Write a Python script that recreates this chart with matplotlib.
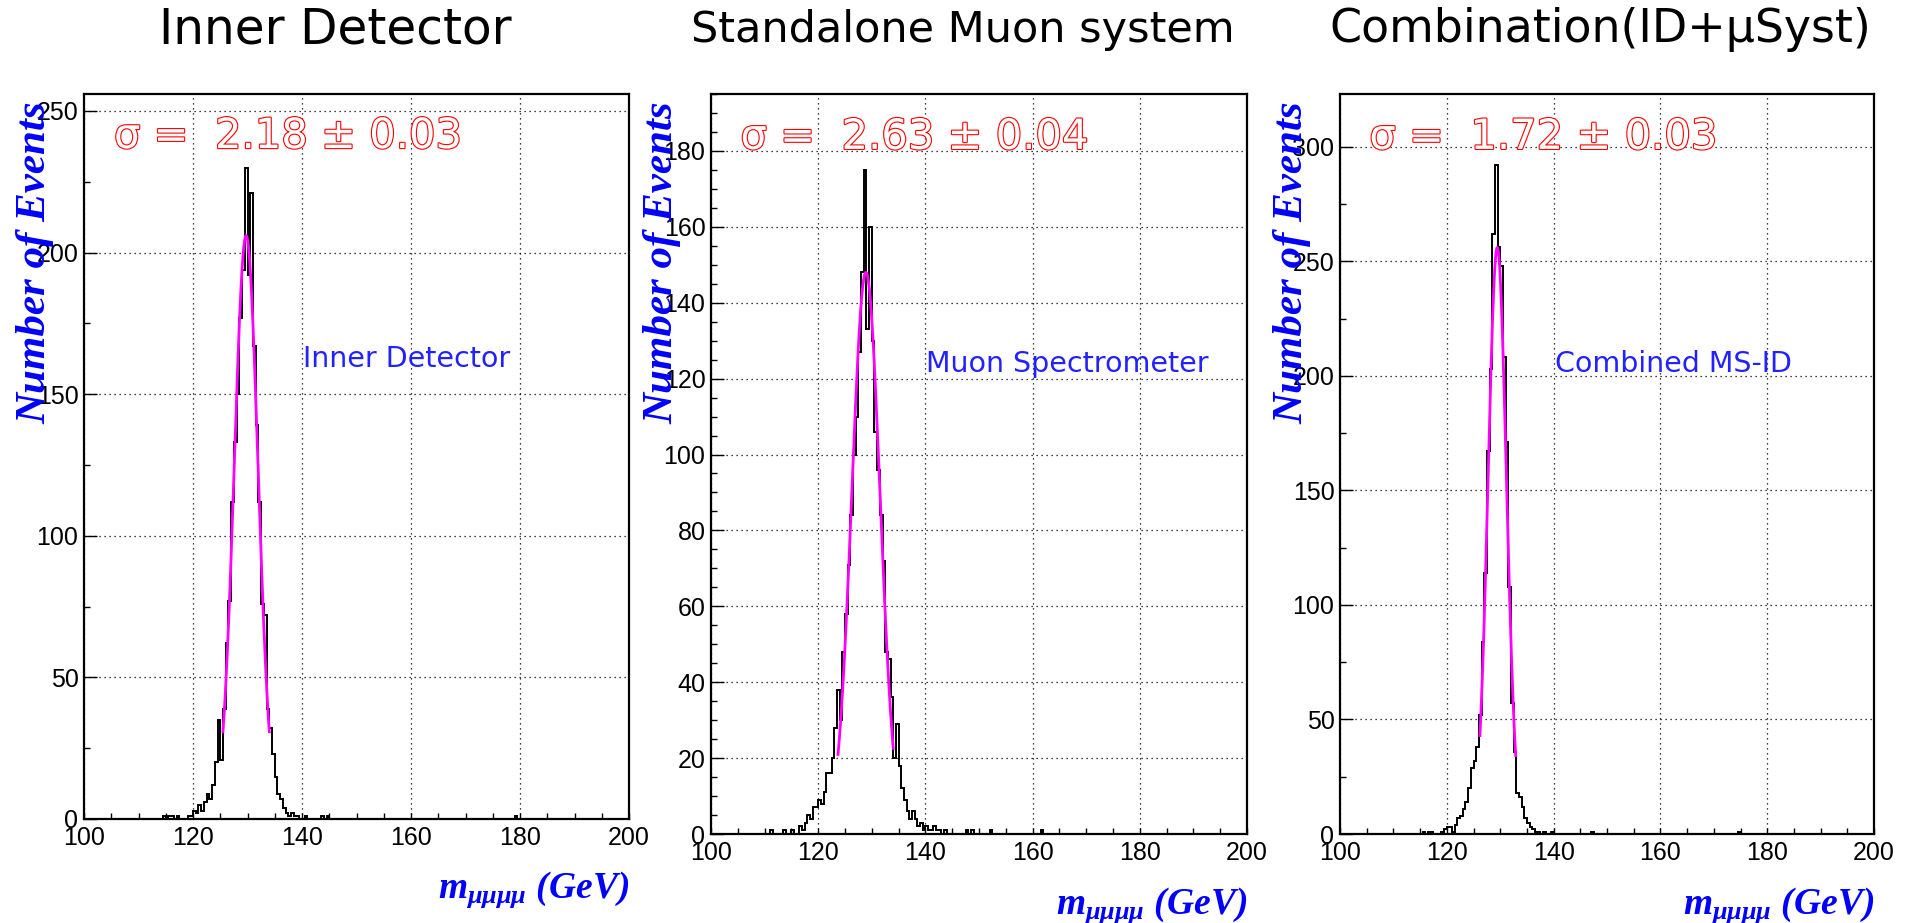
import numpy as np
import matplotlib
matplotlib.use("Agg")
import matplotlib.pyplot as plt
import matplotlib.patheffects as pe
from matplotlib.ticker import MultipleLocator

# ---------------- histogram contents ----------------
# 0.5 GeV bins between 100 and 200 GeV; each list starts at *_first
BIN_W = 0.5
X_LO, X_HI = 100.0, 200.0

# Inner Detector
id_first = 114.5
id_counts = [1, 0, 1, 1, 0, 1, 0, 0, 0, 1, 1, 3, 2, 5, 3, 6, 9, 7, 12, 20,
             35, 21, 39, 62, 77, 112, 133, 150, 177, 194, 230, 192, 221, 167, 139, 112,
             76, 72, 39, 32, 23, 15, 9, 7, 4, 2, 1, 2, 1, 1, 0, 0, 1, 0, 0, 0,
             0, 0, 1, 0, 1]
id_extra_x = [179.0]
id_extra_n = [1]

# Standalone muon system
ms_first = 111.0
ms_counts = [1, 0, 0, 0, 0, 1, 0, 0, 1, 0, 0, 2, 1, 3, 5, 4, 7, 7, 9, 8,
             11, 16, 16, 20, 28, 38, 30, 48, 58, 71, 84, 100, 110, 127, 148, 175,
             133, 160, 130, 106, 96, 84, 72, 48, 46, 36, 20, 29, 18, 12, 9, 6,
             4, 6, 4, 2, 3, 1, 2, 1, 1, 2, 1, 1, 0, 1]
ms_extra_x = [147.5, 148.5, 152.0, 161.5]
ms_extra_n = [1, 1, 1, 1]

# Combination ID + muon system
cb_first = 115.5
cb_counts = [1, 0, 1, 1, 0, 0, 0, 1, 2, 3, 3, 1, 4, 7, 8, 11, 14, 20, 29, 32,
             38, 52, 84, 114, 167, 203, 262, 292, 256, 248, 208, 171, 108, 57,
             36, 18, 16, 12, 7, 5, 3, 2, 1, 1, 0, 1, 0, 0, 1]
cb_extra_x = [147.0, 174.5]
cb_extra_n = [1, 1]

# gaussian fits: mean, sigma, height, fit window
id_fit = (129.75, 2.18, 206, 125.5, 134.0)
ms_fit = (128.9, 2.63, 148, 123.7, 134.0)
cb_fit = (129.45, 1.72, 256, 126.2, 132.9)

titles = ["Inner Detector", "Standalone Muon system", "Combination(ID+\u03bcSyst)"]
sigma_labels = ["\u03c3 =  2.18 \u00b1 0.03", "\u03c3 =  2.63 \u00b1 0.04",
                "\u03c3 =  1.72 \u00b1 0.03"]
tags = ["Inner Detector", "Muon Spectrometer", "Combined MS-ID"]
y_tops = [256, 195, 323]
y_majors = [50, 20, 50]
y_minors = [25, 5, 25]
x_majors = [100, 120, 140, 160, 180, 200]
# -----------------------------------------------------

W, H = 1912, 923
plt.rcParams["font.family"] = ["Liberation Sans", "DejaVu Sans"]
plt.rcParams["mathtext.fontset"] = "custom"
plt.rcParams["mathtext.it"] = "Liberation Serif:bold:italic"
plt.rcParams["mathtext.rm"] = "Liberation Serif:bold:italic"
plt.rcParams["mathtext.bf"] = "Liberation Serif:bold:italic"

fig = plt.figure(figsize=(W / 100, H / 100), dpi=100)
fig.patch.set_facecolor("white")

# panel boxes in pixels: left, right, top, bottom
boxes = [(84, 629, 94, 819), (711, 1247, 94, 834), (1340, 1874, 94, 834)]
title_x = [335, 963, 1600]
title_size = [35, 31, 33]

# hollow red lettering for the fit results
outline = [pe.Stroke(linewidth=1.6, foreground="red"), pe.Normal()]


def fill_bins(first, counts, extra_x, extra_n):
    edges = np.arange(X_LO, X_HI + BIN_W / 2, BIN_W)
    n = np.zeros(len(edges) - 1)
    i0 = int(round((first - X_LO) / BIN_W))
    n[i0:i0 + len(counts)] = counts
    for x, c in zip(extra_x, extra_n):
        n[int(round((x - X_LO) / BIN_W))] = c
    return edges, n


datasets = [
    fill_bins(id_first, id_counts, id_extra_x, id_extra_n),
    fill_bins(ms_first, ms_counts, ms_extra_x, ms_extra_n),
    fill_bins(cb_first, cb_counts, cb_extra_x, cb_extra_n),
]
fits = [id_fit, ms_fit, cb_fit]

for k, (l, r, t, b) in enumerate(boxes):
    ax = fig.add_axes([l / W, 1 - b / H, (r - l) / W, (b - t) / H])
    edges, n = datasets[k]
    ax.stairs(n, edges, color="black", lw=1.4)

    mu, sig, amp, f_lo, f_hi = fits[k]
    xf = np.linspace(f_lo, f_hi, 300)
    ax.plot(xf, amp * np.exp(-0.5 * ((xf - mu) / sig) ** 2), color="#ff00ff", lw=2.0)

    ax.set_xlim(X_LO, X_HI)
    ax.set_ylim(0, y_tops[k])
    ax.set_xticks(x_majors)
    ax.xaxis.set_minor_locator(MultipleLocator(5))
    ax.yaxis.set_major_locator(MultipleLocator(y_majors[k]))
    ax.yaxis.set_minor_locator(MultipleLocator(y_minors[k]))
    ax.tick_params(which="both", direction="in", top=False, right=False,
                   labelsize=18, width=1.0)
    ax.tick_params(axis="y", which="major", length=9, pad=4)
    ax.tick_params(axis="y", which="minor", length=4.5)
    ax.tick_params(axis="x", which="major", length=4.5, pad=5)
    ax.tick_params(axis="x", which="minor", length=4.5)
    ax.grid(True, which="major", color="black", lw=0.9, linestyle=(0, (1, 3)))
    for s in ax.spines.values():
        s.set_linewidth(1.6)

    ax.text(0.055, 0.942, sigma_labels[k], transform=ax.transAxes, color="white",
            fontsize=30, family="DejaVu Sans", va="center", ha="left",
            path_effects=outline)
    ax.text(0.402, 0.635, tags[k], transform=ax.transAxes, color="#2222ff",
            fontsize=20.5, family="DejaVu Sans", va="center", ha="left")
    ax.text(-0.09, 0.99, "Number of Events", transform=ax.transAxes,
            rotation=90, ha="center", va="top", color="#0000ff", fontsize=31,
            family="Liberation Serif", weight="bold", style="italic")
    ax.text(1.0, -0.097, r"$m_{\mu\mu\mu\mu}$ (GeV)", transform=ax.transAxes,
            ha="right", va="center", color="#0000ff", fontsize=27,
            family="Liberation Serif", weight="bold", style="italic")

    fig.text(title_x[k] / W, 1 - 30 / H, titles[k], ha="center", va="center",
             fontsize=title_size[k], family="DejaVu Sans")

fig.savefig("out.png", dpi=100)
